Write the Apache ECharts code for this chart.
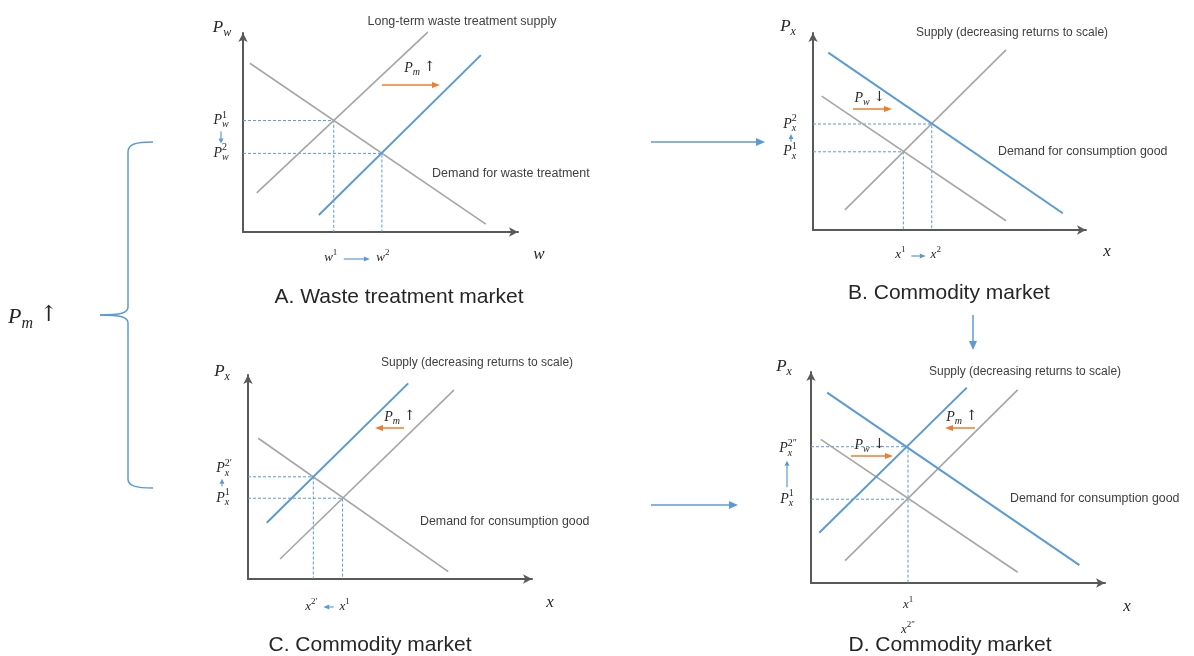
<!DOCTYPE html>
<html><head><meta charset="utf-8">
<script src="https://cdn.jsdelivr.net/npm/echarts@6/dist/echarts.min.js"></script>
<style>html,body{margin:0;padding:0;background:#fff}#c{width:1194px;height:656px}</style>
</head><body><div id="c"></div>
<script>
// ---- data (abstract units 0..10 per panel) ----
const panelA_supply = [[0.5, 1.97], [6.72, 10.04]];
const panelA_supplyShift = [[2.76, 0.85], [8.65, 8.89]];
const panelA_demand = [[0.25, 8.48], [8.83, 0.40]];
const panelA_eq = [[3.3, 5.6], [5.05, 3.95]];

const panelB_supply = [[1.17, 1.02], [7.07, 9.14]];
const panelB_demand = [[0.32, 6.80], [7.07, 0.47]];
const panelB_demandShift = [[0.56, 9.0], [9.15, 0.85]];
const panelB_eq = [[3.31, 3.97], [4.35, 5.38]];

const panelC_supply = [[1.13, 0.98], [7.25, 9.26]];
const panelC_supplyShift = [[0.66, 2.76], [5.64, 9.59]];
const panelC_demand = [[0.36, 6.90], [7.05, 0.36]];
const panelC_eq = [[3.33, 3.96], [2.30, 5.01]];

const panelD_supply = [[1.16, 1.06], [7.03, 9.15]];
const panelD_supplyShift = [[0.28, 2.38], [5.30, 9.26]];
const panelD_demand = [[0.33, 6.81], [7.03, 0.51]];
const panelD_demandShift = [[0.55, 9.02], [9.13, 0.85]];
const panelD_eq = [[3.3, 3.97], [3.3, 6.46]];

const titles = ['A. Waste treatment market', 'B. Commodity market', 'C. Commodity market', 'D. Commodity market'];
const supplyLabels = ['Long-term waste treatment supply', 'Supply (decreasing returns to scale)', 'Supply (decreasing returns to scale)', 'Supply (decreasing returns to scale)'];
const demandLabels = ['Demand for waste treatment', 'Demand for consumption good', 'Demand for consumption good', 'Demand for consumption good'];

// ---- styles ----
const GRAY = '#a6a6a6', BLUE = '#5b9bd5', ORANGE = '#ed7d31', AXIS = '#595959', TXT = '#404040', INK = '#262626';
const SANS = '"Liberation Sans", Arial, sans-serif';
const SERIF = '"Liberation Serif", "DejaVu Serif", serif';
const ARROWF = '"DejaVu Serif", serif';

const grids = [
  {left: 243, top: 33, width: 275, height: 199},
  {left: 813, top: 33, width: 273, height: 197},
  {left: 248, top: 375, width: 284, height: 204},
  {left: 811, top: 372, width: 294, height: 211}
];

const chart = echarts.init(document.getElementById('c'), null, {renderer: 'canvas'});

const xAxes = [], yAxes = [], series = [];
grids.forEach((g, i) => {
  const ax = {gridIndex: i, type: 'value', min: 0, max: 10, interval: 5,
    axisLine: {show: true, symbol: ['none', 'arrow'], symbolSize: [7, 9], lineStyle: {color: AXIS, width: 2}},
    axisTick: {show: false}, axisLabel: {show: false}, splitLine: {show: false}};
  xAxes.push(Object.assign({}, ax));
  yAxes.push(Object.assign({}, ax));
});

function curve(i, data, color, w) {
  series.push({type: 'line', xAxisIndex: i, yAxisIndex: i, data: data, symbol: 'none', clip: false,
    lineStyle: {color: color, width: w}, silent: true, z: 3, animation: false});
}
function dashes(i, p, withVertical) {
  const d = withVertical === false ? [[0, p[1]], p] : [[0, p[1]], p, [p[0], 0]];
  series.push({type: 'line', xAxisIndex: i, yAxisIndex: i, data: d, symbol: 'none', clip: false,
    lineStyle: {color: BLUE, width: 1, type: [3, 2]}, silent: true, z: 2, animation: false});
}
dashes(0, panelA_eq[0]); dashes(0, panelA_eq[1]);
curve(0, panelA_supply, GRAY, 1.6); curve(0, panelA_demand, GRAY, 1.6); curve(0, panelA_supplyShift, BLUE, 2);
dashes(1, panelB_eq[0]); dashes(1, panelB_eq[1]);
curve(1, panelB_supply, GRAY, 1.6); curve(1, panelB_demand, GRAY, 1.6); curve(1, panelB_demandShift, BLUE, 2);
dashes(2, panelC_eq[0]); dashes(2, panelC_eq[1]);
curve(2, panelC_supply, GRAY, 1.6); curve(2, panelC_demand, GRAY, 1.6); curve(2, panelC_supplyShift, BLUE, 2);
dashes(3, panelD_eq[0], false); dashes(3, panelD_eq[1]);
curve(3, panelD_supply, GRAY, 1.6); curve(3, panelD_demand, GRAY, 1.6);
curve(3, panelD_supplyShift, BLUE, 2); curve(3, panelD_demandShift, BLUE, 2);

chart.setOption({animation: false, grid: grids, xAxis: xAxes, yAxis: yAxes, series: series});

// ---- annotations ----
const ctx = document.createElement('canvas').getContext('2d');
function tw(str, font) { ctx.font = font; return ctx.measureText(str).width; }

const G = [];
function text(x, y, str, size, opt) {
  opt = opt || {};
  G.push({type: 'text', x: x, y: y, silent: true, z: 10, style: {text: str,
    font: (opt.style || '') + ' ' + size + 'px ' + (opt.family || SANS),
    fill: opt.color || TXT, textAlign: opt.align || 'left', textVerticalAlign: 'middle'}});
}
// math: base italic with sub / sup stacked, optional trailing arrow
function math(cx, cy, base, sub, sup, size, trail, align) {
  const bf = 'italic ' + size + 'px ' + SERIF;
  const s2 = Math.round(size * 0.72);
  const subF = 'italic ' + s2 + 'px ' + SERIF;
  const supF = s2 + 'px ' + SERIF;
  const bw = tw(base, bf);
  const sw = Math.max(sub ? tw(sub, subF) : 0, sup ? tw(sup, supF) : 0);
  const trailF = size + 'px ' + ARROWF;
  const gap = trail ? size * 0.3 : 0;
  const trw = trail ? tw(trail, trailF) : 0;
  const total = bw + sw + gap + trw;
  const x0 = align === 'left' ? cx : cx - total / 2;
  text(x0, cy, base, size, {style: 'italic', family: SERIF, color: INK});
  if (sub) text(x0 + bw, cy + size * 0.3, sub, s2, {style: 'italic', family: SERIF, color: INK});
  if (sup) text(x0 + bw, cy - size * 0.4, sup, s2, {family: SERIF, color: INK});
  if (trail) text(x0 + bw + sw + gap, cy - size * 0.08, trail, size, {family: ARROWF, color: INK});
}
function arrow(x1, y1, x2, y2, color, w, hl, hw) {
  const a = Math.atan2(y2 - y1, x2 - x1);
  const bx = x2 - hl * Math.cos(a), by = y2 - hl * Math.sin(a);
  const px = -Math.sin(a) * hw / 2, py = Math.cos(a) * hw / 2;
  G.push({type: 'line', silent: true, z: 10, shape: {x1: x1, y1: y1, x2: bx, y2: by}, style: {stroke: color, lineWidth: w}});
  G.push({type: 'polygon', silent: true, z: 10, shape: {points: [[x2, y2], [bx + px, by + py], [bx - px, by - py]]}, style: {fill: color}});
}
function px(i, p) { return chart.convertToPixel({gridIndex: i}, p); }

// Panel A
(function () {
  const e1 = px(0, panelA_eq[0]), e2 = px(0, panelA_eq[1]);
  const o = px(0, [0, 0]), t = px(0, [10, 10]);
  math(o[0] - 21, t[1] - 5, 'P', 'w', null, 17);
  math(o[0] + 296, o[1] + 23, 'w', null, null, 17);
  math(o[0] - 22, e1[1], 'P', 'w', '1', 14);
  math(o[0] - 22, e2[1], 'P', 'w', '2', 14);
  arrow(o[0] - 22, e1[1] + 11, o[0] - 22, e2[1] - 10, BLUE, 1.2, 5, 5);
  math(e1[0] - 3, o[1] + 26, 'w', null, '1', 13);
  arrow(e1[0] + 10, o[1] + 27, e2[0] - 12, o[1] + 27, BLUE, 1.2, 6, 5);
  math(e2[0] + 1, o[1] + 26, 'w', null, '2', 13);
  text(462, 22, supplyLabels[0], 12.5, {align: 'center'});
  text(432, 174, demandLabels[0], 12.5);
  math(420, 68, 'P', 'm', null, 14, '\u2191');
  arrow(382, 85, 440, 85, ORANGE, 1.5, 8, 6);
  text(399, 297, titles[0], 21, {align: 'center', color: INK});
})();
// Panel B
(function () {
  const e1 = px(1, panelB_eq[0]), e2 = px(1, panelB_eq[1]);
  const o = px(1, [0, 0]), t = px(1, [10, 10]);
  math(o[0] - 25, t[1] - 6, 'P', 'x', null, 17);
  math(o[0] + 294, o[1] + 22, 'x', null, null, 17);
  math(o[0] - 23, e2[1], 'P', 'x', '2', 14);
  math(o[0] - 23, e1[1], 'P', 'x', '1', 14);
  arrow(o[0] - 22, e1[1] - 10, o[0] - 22, e2[1] + 10, BLUE, 1.2, 5, 5);
  math(e1[0] - 3, o[1] + 25, 'x', null, '1', 13);
  arrow(e1[0] + 8, o[1] + 26, e2[0] - 6, o[1] + 26, BLUE, 1.2, 6, 5);
  math(e2[0] + 4, o[1] + 25, 'x', null, '2', 13);
  text(1012, 33, supplyLabels[1], 12, {align: 'center'});
  text(998, 152, demandLabels[1], 12.4);
  math(870, 98, 'P', 'w', null, 14, '\u2193');
  arrow(853, 109, 892, 109, ORANGE, 1.5, 8, 6);
  text(949, 293, titles[1], 21, {align: 'center', color: INK});
})();
// Panel C
(function () {
  const e1 = px(2, panelC_eq[0]), e2 = px(2, panelC_eq[1]);
  const o = px(2, [0, 0]), t = px(2, [10, 10]);
  math(o[0] - 26, t[1] - 3, 'P', 'x', null, 17);
  math(o[0] + 302, o[1] + 24, 'x', null, null, 17);
  math(o[0] - 24, e2[1] - 8, 'P', 'x', '2\u2032', 14);
  math(o[0] - 25, e1[1], 'P', 'x', '1', 14);
  arrow(o[0] - 26, e1[1] - 12, o[0] - 26, e2[1] + 2, BLUE, 1.2, 5, 5);
  math(e2[0] - 2, o[1] + 28, 'x', null, '2\u2032', 13);
  arrow(e1[0] - 9, o[1] + 28, e2[0] + 10, o[1] + 28, BLUE, 1.2, 6, 5);
  math(e1[0] + 2, o[1] + 28, 'x', null, '1', 13);
  text(477, 363, supplyLabels[2], 12, {align: 'center'});
  text(420, 522, demandLabels[2], 12.4);
  math(400, 417, 'P', 'm', null, 14, '\u2191');
  arrow(404, 428, 375, 428, ORANGE, 1.5, 8, 6);
  text(370, 645, titles[2], 21, {align: 'center', color: INK});
})();
// Panel D
(function () {
  const e1 = px(3, panelD_eq[0]), e2 = px(3, panelD_eq[1]);
  const o = px(3, [0, 0]), t = px(3, [10, 10]);
  math(o[0] - 27, t[1] - 5, 'P', 'x', null, 17);
  math(o[0] + 316, o[1] + 24, 'x', null, null, 17);
  math(o[0] - 23, e2[1] + 2, 'P', 'x', '2\u2033', 14);
  math(o[0] - 24, e1[1], 'P', 'x', '1', 14);
  arrow(o[0] - 24, e1[1] - 12, o[0] - 24, e2[1] + 14, BLUE, 1.2, 5, 5);
  math(e1[0], o[1] + 22, 'x', null, '1', 13);
  math(e1[0], o[1] + 47, 'x', null, '2\u2033', 13);
  text(1025, 372, supplyLabels[3], 12, {align: 'center'});
  text(1010, 499, demandLabels[3], 12.4);
  math(962, 417, 'P', 'm', null, 14, '\u2191');
  arrow(975, 428, 945, 428, ORANGE, 1.5, 8, 6);
  math(870, 445, 'P', 'w', null, 14, '\u2193');
  arrow(851, 456, 893, 456, ORANGE, 1.5, 8, 6);
  text(950, 645, titles[3], 21, {align: 'center', color: INK});
})();

// connectors
arrow(651, 142, 765, 142, BLUE, 1.5, 9, 8);
arrow(651, 505, 738, 505, BLUE, 1.5, 9, 8);
arrow(973, 315, 973, 350, BLUE, 1.5, 9, 8);
// brace (curly bracket)
const bs = {stroke: BLUE, lineWidth: 1.5, fill: null};
G.push({type: 'bezierCurve', silent: true, z: 10, shape: {x1: 153, y1: 142, cpx1: 136, cpy1: 142, cpx2: 128, cpy2: 144, x2: 128, y2: 152}, style: bs});
G.push({type: 'line', silent: true, z: 10, shape: {x1: 128, y1: 152, x2: 128, y2: 307}, style: bs});
G.push({type: 'bezierCurve', silent: true, z: 10, shape: {x1: 128, y1: 307, cpx1: 128, cpy1: 313, cpx2: 121, cpy2: 315, x2: 100, y2: 315}, style: bs});
G.push({type: 'bezierCurve', silent: true, z: 10, shape: {x1: 100, y1: 315, cpx1: 121, cpy1: 315, cpx2: 128, cpy2: 317, x2: 128, y2: 323}, style: bs});
G.push({type: 'line', silent: true, z: 10, shape: {x1: 128, y1: 323, x2: 128, y2: 479}, style: bs});
G.push({type: 'bezierCurve', silent: true, z: 10, shape: {x1: 128, y1: 479, cpx1: 128, cpy1: 486, cpx2: 136, cpy2: 488, x2: 153, y2: 488}, style: bs});
math(8, 317, 'P', 'm', null, 22, '\u2191', 'left');

chart.setOption({graphic: {elements: G}});
</script></body></html>
